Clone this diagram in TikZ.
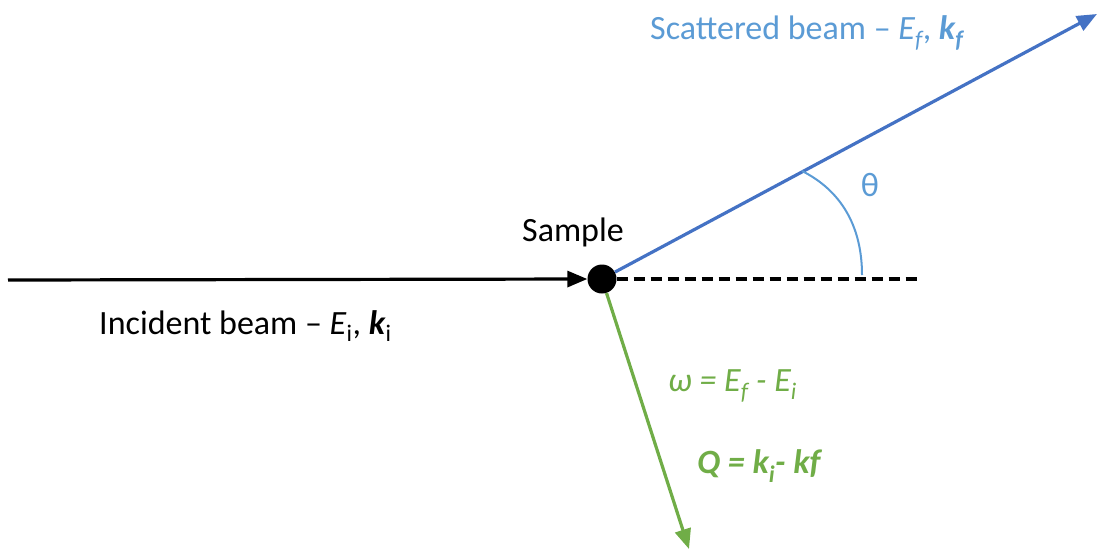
\documentclass[tikz,border=0pt]{standalone}
\usepackage{fontspec}
\setmainfont{Carlito}
\usetikzlibrary{arrows.meta}
\definecolor{beamblue}{HTML}{4472C4}
\definecolor{lblue}{HTML}{5B9BD5}
\definecolor{lgreen}{HTML}{70AD47}
\begin{document}
\begin{tikzpicture}[x=1pt,y=-1pt,
  lbl/.style={inner sep=0pt,font=\fontsize{34}{38}\selectfont},
  beam/.style={line width=3.2pt},
  tip/.style={-{Triangle[length=20pt,width=16pt]}}]
\useasboundingbox (0,0) rectangle (1105,550);
\node[circle,fill=black,minimum size=29pt,inner sep=0pt] (dot) at (602,279) {};
\coordinate (inc) at (8,280);
\coordinate (dashend) at (918,279);
\coordinate (scat) at (1097,14);
\coordinate (green) at (689,549);
\coordinate (arcA) at (802,171);
\coordinate (arcB) at (862,275);
\draw[beam,tip] (inc) -- (dot.west);
\draw[beam,dash pattern=on 11pt off 6pt] (dot.east) -- (dashend);
\draw[beam,beamblue,tip] (dot) -- (scat);
\draw[beam,lgreen,tip] (dot) -- (green);
\draw[lblue,line width=2pt] (arcA) .. controls (840,190) and (862,225) .. (arcB);
\node[lbl,text=lblue] (theta) at (870,185) {θ};
\node[lbl] (sample) at (573,232) {Sample};
\node[lbl,anchor=west] (incl) at (99,326) {Incident beam – \textit{E}\textsubscript{i}, \textbf{\textit{k}}\textsubscript{i}};
\node[lbl,anchor=west,text=lblue] (scl) at (650,33) {Scattered beam – \textit{E\textsubscript{f}}, \textbf{\textit{k\textsubscript{f}}}};
\node[lbl,anchor=west,text=lgreen] (om) at (668,386) {\textit{ω = E\textsubscript{f} - E\textsubscript{i}}};
\node[lbl,anchor=west,text=lgreen] (qq) at (697,466) {\textbf{\textit{Q = k\textsubscript{i}- kf}}};
\end{tikzpicture}
\end{document}
